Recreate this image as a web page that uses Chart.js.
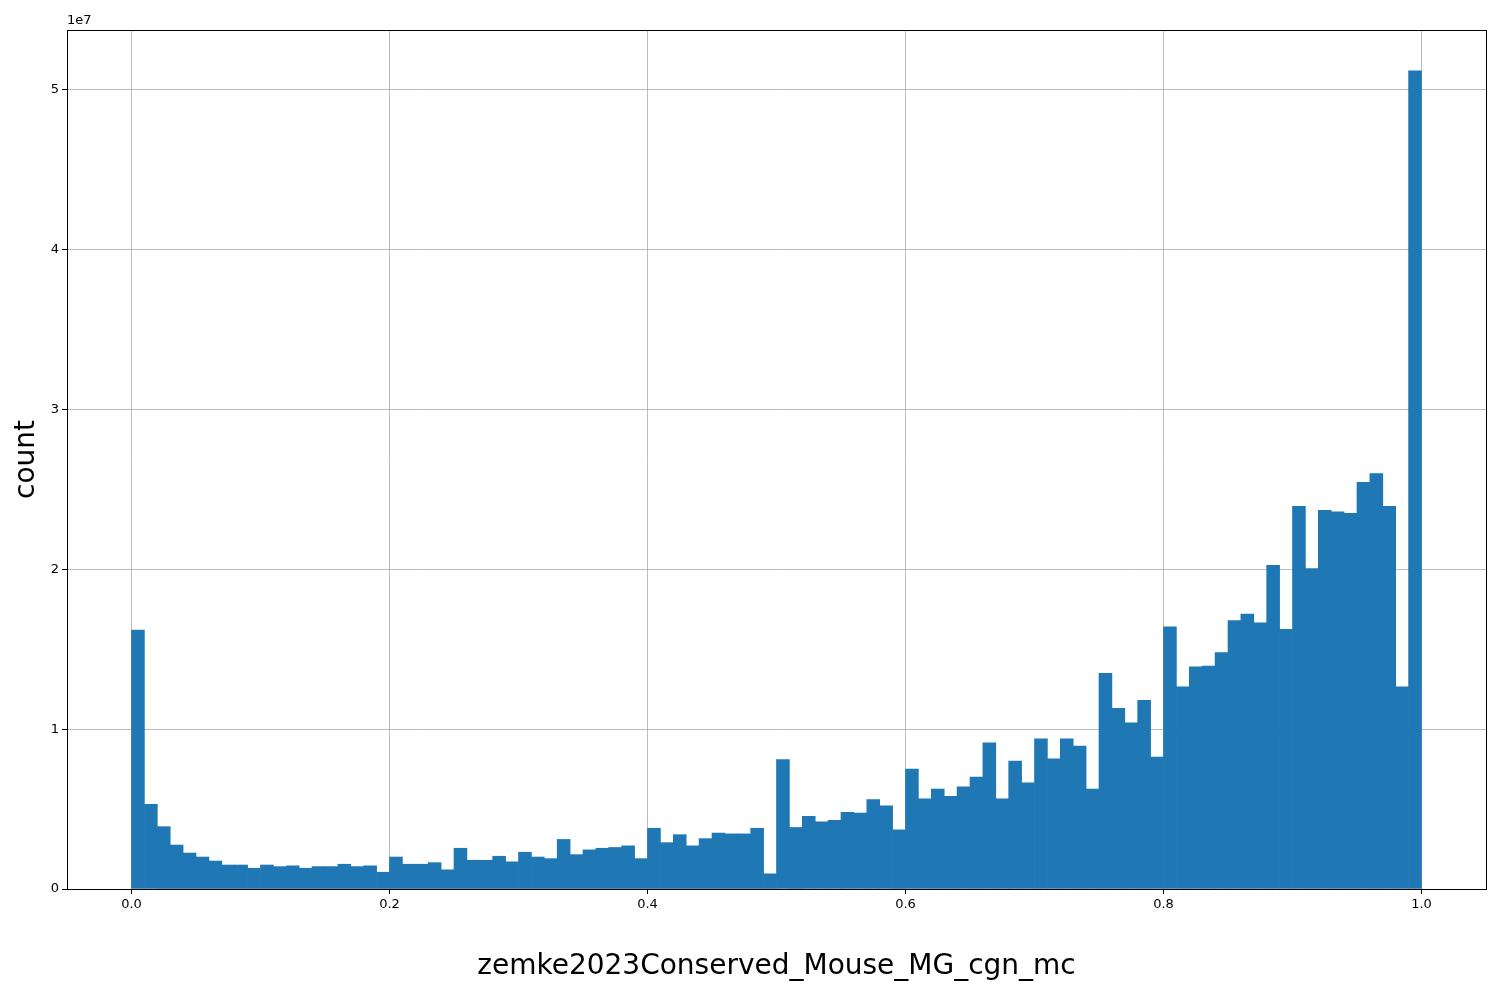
<!DOCTYPE html>
<html>
<head>
<meta charset="utf-8">
<script src="https://cdn.jsdelivr.net/npm/chart.js@4"></script>
<style>
  body { margin: 0; background: #fff; }
  #wrap { width: 1500px; height: 1000px; }
</style>
</head>
<body>
<div id="wrap"><canvas id="hist"></canvas></div>
<script>
// histogram: 100 bins on [0, 1], counts in units of 1e7
const binStart = 0;
const binWidth = 0.01;
const counts = [
  1.62, 0.53, 0.39, 0.275, 0.225, 0.20, 0.175, 0.15, 0.15, 0.13,
  0.15, 0.14, 0.145, 0.13, 0.14, 0.14, 0.155, 0.14, 0.145, 0.105,
  0.20, 0.155, 0.155, 0.165, 0.12, 0.255, 0.18, 0.18, 0.205, 0.17,
  0.23, 0.20, 0.19, 0.31, 0.215, 0.245, 0.255, 0.26, 0.27, 0.19,
  0.38, 0.29, 0.34, 0.27, 0.315, 0.35, 0.345, 0.345, 0.38, 0.095,
  0.81, 0.385, 0.455, 0.42, 0.43, 0.48, 0.475, 0.56, 0.52, 0.37,
  0.75, 0.565, 0.625, 0.58, 0.64, 0.70, 0.915, 0.565, 0.80, 0.665,
  0.94, 0.815, 0.94, 0.895, 0.625, 1.35, 1.13, 1.04, 1.18, 0.825,
  1.64, 1.265, 1.39, 1.395, 1.48, 1.68, 1.72, 1.665, 2.025, 1.625,
  2.395, 2.005, 2.37, 2.36, 2.35, 2.545, 2.60, 2.395, 1.265, 5.12
];
const xTicks = [0.0, 0.2, 0.4, 0.6, 0.8, 1.0];
const yTicks = [0, 1, 2, 3, 4, 5];
const xTitle = "zemke2023Conserved_Mouse_MG_cgn_mc";
const yTitle = "count";

const points = counts.map((c, i) => ({ x: binStart + (i + 0.5) * binWidth, y: c * 1e7 }));

const offsetLabel = {
  id: "offsetLabel",
  afterDraw(chart) {
    const ctx = chart.ctx;
    ctx.save();
    ctx.font = "13px 'DejaVu Sans'";
    ctx.fillStyle = "#000";
    ctx.textBaseline = "bottom";
    ctx.fillText("1e7", chart.chartArea.left, chart.chartArea.top - 3);
    ctx.strokeStyle = "#000";
    ctx.lineWidth = 1;
    const a = chart.chartArea;
    ctx.strokeRect(a.left + 0.5, a.top + 0.5, a.right - a.left, a.bottom - a.top);
    ctx.restore();
  }
};

new Chart(document.getElementById("hist"), {
  type: "bar",
  data: {
    datasets: [{
      data: points,
      backgroundColor: "#1f77b4",
      borderWidth: 0,
      barPercentage: 1.0,
      categoryPercentage: 1.0,
      grouped: false
    }]
  },
  options: {
    responsive: true,
    maintainAspectRatio: false,
    animation: false,
    plugins: { legend: { display: false }, tooltip: { enabled: false } },
    layout: { padding: { top: 30, right: 14, left: 0, bottom: 12 } },
    scales: {
      x: {
        type: "linear",
        min: -0.05,
        max: 1.05,
        offset: false,
        z: 1,
        afterBuildTicks(axis) { axis.ticks = xTicks.map(v => ({ value: v })); },
        afterFit(axis) { axis.height = 99; },
        ticks: {
          font: { family: "DejaVu Sans", size: 13 },
          color: "#000",
          callback: v => v.toFixed(1),
          maxRotation: 0
        },
        grid: { offset: false, color: "rgba(176,176,176,0.85)", tickColor: "#000", tickLength: 5 },
        border: { display: false },
        title: {
          display: true,
          text: xTitle,
          font: { family: "DejaVu Sans", size: 28 },
          color: "#000",
          padding: { top: 6 }
        }
      },
      y: {
        min: 0,
        max: 5.375e7,
        z: 1,
        afterBuildTicks(axis) { axis.ticks = yTicks.map(v => ({ value: v * 1e7 })); },
        afterFit(axis) { axis.width = 67; },
        ticks: {
          font: { family: "DejaVu Sans", size: 13 },
          color: "#000",
          callback: v => String(Math.round(v / 1e7))
        },
        grid: { color: "rgba(176,176,176,0.85)", tickColor: "#000", tickLength: 5 },
        border: { display: false },
        title: {
          display: true,
          text: yTitle,
          font: { family: "DejaVu Sans", size: 28 },
          color: "#000",
          padding: { top: 10, bottom: 8 }
        }
      }
    }
  },
  plugins: [offsetLabel]
});
</script>
</body>
</html>
